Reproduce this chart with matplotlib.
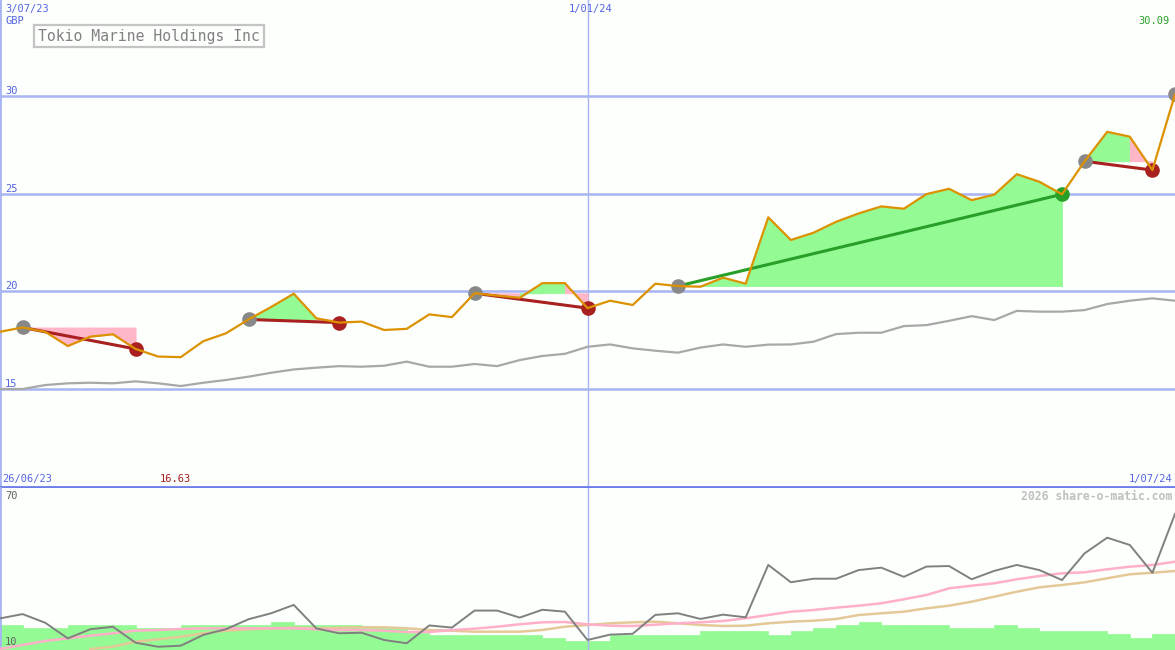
"""
Weekly price chart for Tokio Marine Holdings Inc (GBP), share-o-matic style.

Top panel: close price with swing trend lines and fills, plus relative line.
Bottom panel: volume bars, oscillator and two moving averages.

Output:
  - out.png
"""

import matplotlib
matplotlib.use('Agg')
import matplotlib.pyplot as plt
import numpy as np

# Weekly points, 3/07/23 .. 1/07/24
weeks = np.arange(53)

close = [17.93, 18.15, 17.93, 17.20, 17.68, 17.80, 17.05, 16.66, 16.63, 17.45,
         17.85, 18.56, 19.20, 19.88, 18.62, 18.40, 18.45, 18.02, 18.08, 18.82,
         18.68, 19.90, 19.78, 19.67, 20.42, 20.42, 19.14, 19.52, 19.30, 20.39,
         20.27, 20.24, 20.70, 20.39, 23.79, 22.63, 23.00, 23.56, 23.99, 24.35,
         24.23, 24.98, 25.25, 24.67, 24.95, 26.00, 25.61, 24.97, 26.66, 28.17,
         27.92, 26.21, 30.09]

relative = [15.00, 15.00, 15.20, 15.29, 15.32, 15.29, 15.39, 15.29, 15.15, 15.32,
            15.46, 15.63, 15.83, 16.00, 16.09, 16.17, 16.14, 16.19, 16.40, 16.14,
            16.14, 16.28, 16.17, 16.48, 16.69, 16.80, 17.16, 17.28, 17.08, 16.96,
            16.86, 17.12, 17.28, 17.16, 17.27, 17.28, 17.42, 17.81, 17.88, 17.88,
            18.22, 18.27, 18.49, 18.73, 18.53, 19.00, 18.96, 18.96, 19.04, 19.35,
            19.52, 19.64, 19.52]

# swing segments: (start week, end week)
swings = [(1, 6), (11, 15), (21, 26), (30, 47), (48, 51)]
open_swing = 52

# lower panel
oscillator = [21.7, 23.3, 20.1, 14.3, 17.7, 18.6, 12.7, 11.2, 11.6, 15.6,
              17.7, 21.4, 23.6, 26.7, 18.0, 16.2, 16.4, 13.7, 12.5, 19.1,
              18.3, 24.6, 24.6, 22.0, 24.9, 24.2, 13.7, 15.7, 16.0, 23.0,
              23.6, 21.5, 23.1, 22.1, 41.5, 35.1, 36.4, 36.4, 39.6, 40.5,
              37.1, 40.9, 41.1, 36.2, 39.3, 41.5, 39.6, 35.9, 45.8, 51.6,
              48.9, 38.6, 60.4]

ma_fast = [10.4, 11.85, 13.33, 14.33, 15.3, 16.19, 17.15, 17.4, 17.78, 18.04,
           18.04, 18.04, 18.04, 18.04, 17.67, 17.4, 17.4, 17.15, 16.67, 16.67,
           17.4, 17.89, 18.63, 19.52, 20.26, 20.37, 19.52, 19.0, 18.89, 19.37,
           19.89, 20.26, 20.74, 21.74, 22.96, 24.19, 24.81, 25.67, 26.41, 27.3,
           28.78, 30.37, 32.85, 33.81, 34.7, 36.19, 37.41, 38.41, 38.78, 39.89,
           40.85, 41.48, 42.7]

ma_slow = [np.nan, np.nan, np.nan, np.nan, 10.37, 11.22, 13.07, 13.96, 14.93, 16.19,
           17.15, 17.67, 18.04, 18.26, 18.04, 18.26, 18.41, 18.41, 18.04, 17.41,
           17.15, 16.78, 16.78, 16.78, 17.41, 18.63, 19.26, 19.89, 20.26, 20.48,
           19.89, 19.26, 18.89, 19.0, 19.89, 20.48, 20.85, 21.48, 22.96, 23.59,
           24.19, 25.44, 26.41, 27.89, 29.74, 31.59, 33.22, 34.07, 35.07, 36.56,
           38.04, 38.63, 39.26]

# volume bar tops, one per week interval
volume = [19.26, 18.26, 18.26, 19.26, 19.26, 19.26, 18.26, 18.26, 19.26, 19.26,
          19.26, 19.26, 20.37, 19.26, 19.26, 19.26, 18.26, 18.26, 16.41, 15.56,
          15.56, 15.56, 15.56, 15.56, 14.56, 13.33, 13.33, 15.56, 15.56, 15.56,
          15.56, 17.04, 17.04, 17.04, 15.56, 17.04, 18.26, 19.26, 20.37, 19.26,
          19.26, 19.26, 18.26, 18.26, 19.26, 18.26, 17.04, 17.04, 17.04, 15.81,
          14.56, 15.81]

price_levels = [15, 20, 25, 30]

BG = '#fcfffc'
GRID = '#a8b4f4'
LABEL_BLUE = '#5464e4'
ORANGE = '#dc9200'
DOWN = '#a82020'
UP = '#28a028'
PINK = '#ffb6c8'
LIGHT_GREEN = '#94fa94'
MONO = 'DejaVu Sans Mono'

W, H = 1175, 650
SPLIT = 487


def fig_text(fig, x, y, s, **kw):
    """Place text using pixel coordinates from the top-left."""
    kw.setdefault('family', MONO)
    kw.setdefault('fontsize', 7.5)
    kw.setdefault('va', 'center')
    fig.text(x / W, 1 - y / H, s, **kw)


def draw_price_panel(ax):
    ax.set_xlim(0, 52)
    ax.set_ylim(9.98, 34.92)
    for lvl in price_levels:
        ax.axhline(lvl, color=GRID, lw=1.8, zorder=1)
    ax.axvline(26, color=GRID, lw=1, zorder=1)

    c = np.array(close)
    for s, e in swings:
        level = c[s]
        for i in range(s, e):
            col = LIGHT_GREEN if c[i + 1] >= level else PINK
            ax.fill_between(weeks[i:i + 2], level, c[i:i + 2], facecolor=col,
                            edgecolor=col, lw=0.6, zorder=2)

    ax.plot(weeks, relative, color='#a8a8a8', lw=1.6, zorder=3)

    for s, e in swings:
        col = UP if c[e] > c[s] else DOWN
        ax.plot([weeks[s], weeks[e]], [c[s], c[e]], color=col, lw=2.2, zorder=4)
        ax.plot(weeks[s], c[s], 'o', color='#888888', ms=9.5, zorder=5)
        ax.plot(weeks[e], c[e], 'o', color=col, ms=9.5, zorder=5)
    ax.plot(weeks[open_swing], c[open_swing], 'o', color='#888888', ms=9.5,
            zorder=5)

    ax.plot(weeks, close, color=ORANGE, lw=1.6, zorder=6)

    for sp in ['top', 'right']:
        ax.spines[sp].set_visible(False)
    ax.spines['left'].set_color(GRID)
    ax.spines['left'].set_linewidth(2)
    ax.spines['bottom'].set_color('#6c7ce8')
    ax.spines['bottom'].set_linewidth(2)
    ax.spines['bottom'].set_zorder(8)
    ax.set_xticks([])
    ax.set_yticks([])
    ax.set_facecolor(BG)


def draw_lower_panel(ax):
    ax.set_xlim(0, 52)
    ax.set_ylim(10, 70)
    vol = np.array(volume)
    ax.bar(weeks[:-1], vol - 10, bottom=10, width=1, align='edge',
           color=LIGHT_GREEN, edgecolor=LIGHT_GREEN, lw=0.5, zorder=1)
    ax.axvline(26, color=GRID, lw=1, zorder=2)
    ax.plot(weeks, ma_slow, color='#e4c898', lw=1.8, zorder=3)
    ax.plot(weeks, ma_fast, color='#ffb0c8', lw=1.8, zorder=4)
    ax.plot(weeks, oscillator, color='#808080', lw=1.4, zorder=5)

    for sp in ['top', 'right', 'bottom']:
        ax.spines[sp].set_visible(False)
    ax.spines['left'].set_color(GRID)
    ax.spines['left'].set_linewidth(2)
    ax.set_xticks([])
    ax.set_yticks([])
    ax.set_facecolor(BG)


def main():
    fig = plt.figure(figsize=(W / 100, H / 100), dpi=100, facecolor=BG)
    ax_top = fig.add_axes([0, 1 - SPLIT / H, 1, SPLIT / H])
    ax_low = fig.add_axes([0, 0, 1, (H - SPLIT - 1) / H])

    draw_price_panel(ax_top)
    draw_lower_panel(ax_low)

    # top labels
    fig_text(fig, 5, 9, '3/07/23', color=LABEL_BLUE)
    fig_text(fig, 5, 21, 'GBP', color=LABEL_BLUE)
    fig_text(fig, 591, 9, '1/01/24', color=LABEL_BLUE, ha='center')
    fig_text(fig, 1170, 21, '30.09', color=UP, ha='right')
    for lvl, y in zip(price_levels, [384, 286, 189, 91]):
        fig_text(fig, 5, y, str(lvl), color=LABEL_BLUE)

    fig_text(fig, 38, 36, 'Tokio Marine Holdings Inc', color='#808080',
             fontsize=10.6,
             bbox=dict(boxstyle='square,pad=0.25', fc=BG, ec='#c4c4c4', lw=1.6))

    # panel split labels
    fig_text(fig, 2, 479, '26/06/23', color=LABEL_BLUE)
    fig_text(fig, 160, 479, '16.63', color=DOWN)
    fig_text(fig, 1172, 479, '1/07/24', color=LABEL_BLUE, ha='right')
    fig_text(fig, 1172, 496, '2026 share-o-matic.com', color='#c0c0c0',
             ha='right', fontsize=8.3, fontweight='bold')
    fig_text(fig, 5, 496, '70', color='#606060')
    fig_text(fig, 5, 642, '10', color='#606060')

    fig.savefig('out.png', dpi=100, facecolor=BG)
    plt.close(fig)


if __name__ == '__main__':
    main()
